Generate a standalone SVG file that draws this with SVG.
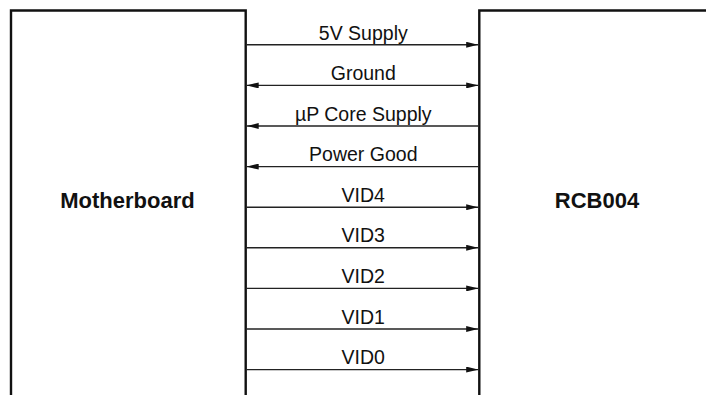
<svg xmlns="http://www.w3.org/2000/svg" width="706" height="395" viewBox="0 0 706 395">
<style>
.box{fill:none;stroke:#111;stroke-width:2.4}
.wire{stroke:#222;stroke-width:1.4;fill:none}
.lbl{font-family:"Liberation Sans",Arial,sans-serif;font-size:19.5px;fill:#111;text-anchor:middle}
.name{font-family:"Liberation Sans",Arial,sans-serif;font-size:22px;font-weight:bold;fill:#111;text-anchor:middle}
</style>
<defs>
<marker id="ah" markerUnits="userSpaceOnUse" markerWidth="12" markerHeight="6" refX="12" refY="3" orient="auto-start-reverse">
<path d="M0,0 L12,3 L0,6 z" fill="#111"/>
</marker>
</defs>
<rect width="706" height="395" fill="#fff"/>
<g id="motherboard">
<path class="box" d="M11,400 V10.5 H245.7 V400"/>
<text class="name" x="127.5" y="207.5">Motherboard</text>
</g>
<g id="rcb004">
<path class="box" d="M479.3,400 V10.5 H712"/>
<text class="name" x="597" y="207.5">RCB004</text>
</g>
<g id="connectors">
<line class="wire" x1="246.7" y1="44.8" x2="478.2" y2="44.8" marker-end="url(#ah)"/>
<line class="wire" x1="246.7" y1="85.4" x2="478.2" y2="85.4" marker-start="url(#ah)" marker-end="url(#ah)"/>
<line class="wire" x1="478.2" y1="126" x2="246.7" y2="126" marker-end="url(#ah)"/>
<line class="wire" x1="478.2" y1="166.6" x2="246.7" y2="166.6" marker-end="url(#ah)"/>
<line class="wire" x1="246.7" y1="207.2" x2="478.2" y2="207.2" marker-end="url(#ah)"/>
<line class="wire" x1="246.7" y1="247.8" x2="478.2" y2="247.8" marker-end="url(#ah)"/>
<line class="wire" x1="246.7" y1="288.4" x2="478.2" y2="288.4" marker-end="url(#ah)"/>
<line class="wire" x1="246.7" y1="329" x2="478.2" y2="329" marker-end="url(#ah)"/>
<line class="wire" x1="246.7" y1="369.6" x2="478.2" y2="369.6" marker-end="url(#ah)"/>
<text class="lbl" x="363.3" y="39.5">5V Supply</text>
<text class="lbl" x="363.3" y="80">Ground</text>
<text class="lbl" x="363.3" y="120.7">µP Core Supply</text>
<text class="lbl" x="363.3" y="161.2">Power Good</text>
<text class="lbl" x="363.3" y="201.8">VID4</text>
<text class="lbl" x="363.3" y="242.4">VID3</text>
<text class="lbl" x="363.3" y="283">VID2</text>
<text class="lbl" x="363.3" y="323.6">VID1</text>
<text class="lbl" x="363.3" y="364.2">VID0</text>
</g>
</svg>
